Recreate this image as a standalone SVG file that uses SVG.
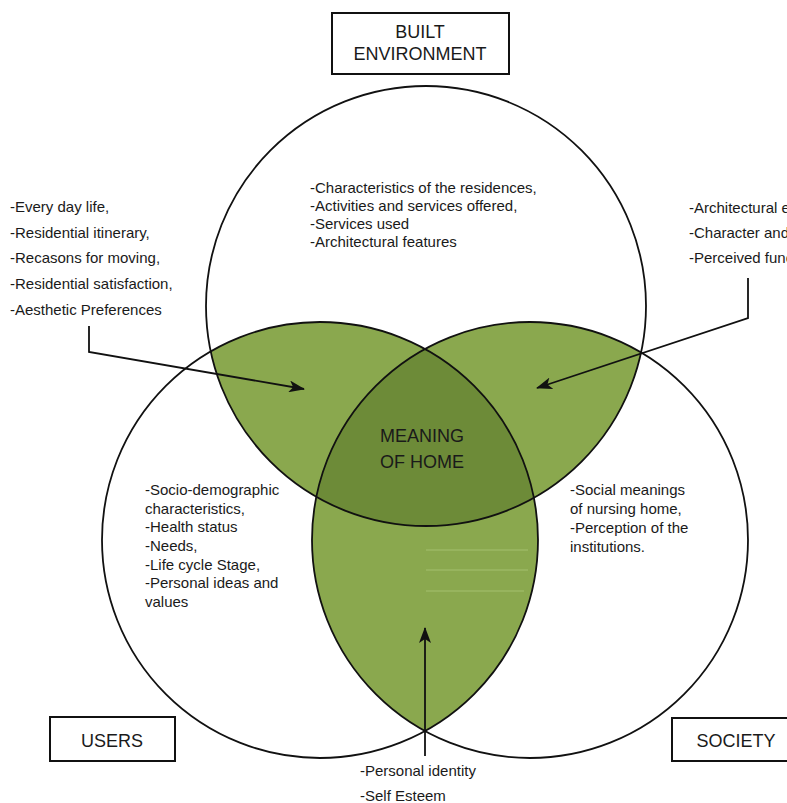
<svg xmlns="http://www.w3.org/2000/svg" width="787" height="803" viewBox="0 0 787 803">
<style>
.t{font-family:"Liberation Sans",Arial,sans-serif;font-size:15px;fill:#1a1a1a}
.h{font-family:"Liberation Sans",Arial,sans-serif;font-size:18px;fill:#1a1a1a;text-anchor:middle}
.ring{fill:none;stroke:#111;stroke-width:1.8}
.box{fill:#fff;stroke:#111;stroke-width:2}
.lt{fill:#8aa84e}
.dk{fill:#6d8b38}
.con{fill:none;stroke:#111;stroke-width:1.8}
.faint{stroke:#a3c06e;stroke-width:1.2}
</style>
<defs>
<clipPath id="cT"><circle cx="426" cy="306" r="220"/></clipPath>
<clipPath id="cL"><circle cx="320" cy="540" r="218"/></clipPath>
<clipPath id="cR"><circle cx="530" cy="540" r="218"/></clipPath>
<marker id="ah" viewBox="0 0 16 12" refX="15" refY="6" markerWidth="16" markerHeight="12" markerUnits="userSpaceOnUse" orient="auto">
<path d="M0,0 L16,6 L0,12 L4,6 z" fill="#111"/>
</marker>
</defs>
<rect width="787" height="803" fill="#fff"/>
<g id="overlaps">
<circle class="lt" cx="426" cy="306" r="220" clip-path="url(#cL)"/>
<circle class="lt" cx="426" cy="306" r="220" clip-path="url(#cR)"/>
<circle class="lt" cx="320" cy="540" r="218" clip-path="url(#cR)"/>
<g clip-path="url(#cL)"><circle class="dk" cx="426" cy="306" r="220" clip-path="url(#cR)"/></g>
<line class="faint" x1="426" y1="550" x2="528" y2="550"/>
<line class="faint" x1="426" y1="570" x2="528" y2="570"/>
<line class="faint" x1="426" y1="591" x2="524" y2="591"/>
</g>
<g id="built-environment">
<circle class="ring" cx="426" cy="306" r="220"/>
<rect class="box" x="332" y="13" width="177" height="61"/>
<text class="h" x="420" y="38">BUILT</text>
<text class="h" x="420" y="60">ENVIRONMENT</text>
<text class="t" x="310" y="193">-Characteristics of the residences,</text>
<text class="t" x="310" y="211">-Activities and services offered,</text>
<text class="t" x="310" y="229">-Services used</text>
<text class="t" x="310" y="247">-Architectural features</text>
</g>
<g id="users">
<circle class="ring" cx="320" cy="540" r="218"/>
<rect class="box" x="50" y="717" width="125" height="44"/>
<text class="h" x="112" y="747">USERS</text>
<text class="t" x="145" y="495">-Socio-demographic</text>
<text class="t" x="145" y="514">characteristics,</text>
<text class="t" x="145" y="532">-Health status</text>
<text class="t" x="145" y="551">-Needs,</text>
<text class="t" x="145" y="570">-Life cycle Stage,</text>
<text class="t" x="145" y="588">-Personal ideas and</text>
<text class="t" x="145" y="607">values</text>
</g>
<g id="society">
<circle class="ring" cx="530" cy="540" r="218"/>
<rect class="box" x="672" y="718" width="130" height="43"/>
<text class="h" x="736" y="747">SOCIETY</text>
<text class="t" x="570" y="495">-Social meanings</text>
<text class="t" x="570" y="514">of nursing home,</text>
<text class="t" x="570" y="533">-Perception of the</text>
<text class="t" x="570" y="552">institutions.</text>
</g>
<g id="meaning-of-home">
<text class="h" x="422" y="442">MEANING</text>
<text class="h" x="422" y="468">OF HOME</text>
</g>
<g id="left-notes">
<text class="t" x="10" y="212">-Every day life,</text>
<text class="t" x="10" y="238">-Residential itinerary,</text>
<text class="t" x="10" y="263">-Recasons for moving,</text>
<text class="t" x="10" y="289">-Residential satisfaction,</text>
<text class="t" x="10" y="315">-Aesthetic Preferences</text>
</g>
<g id="right-notes">
<text class="t" x="689" y="213">-Architectural e</text>
<text class="t" x="689" y="238">-Character and</text>
<text class="t" x="689" y="263">-Perceived func</text>
</g>
<g id="bottom-notes">
<text class="t" x="360" y="776">-Personal identity</text>
<text class="t" x="360" y="801">-Self Esteem</text>
</g>
<g id="connectors">
<path class="con" d="M89,326 V352 L304,389" marker-end="url(#ah)"/>
<path class="con" d="M748,278 V318 L537,388" marker-end="url(#ah)"/>
<path class="con" d="M425,756 V628" marker-end="url(#ah)"/>
</g>
</svg>
